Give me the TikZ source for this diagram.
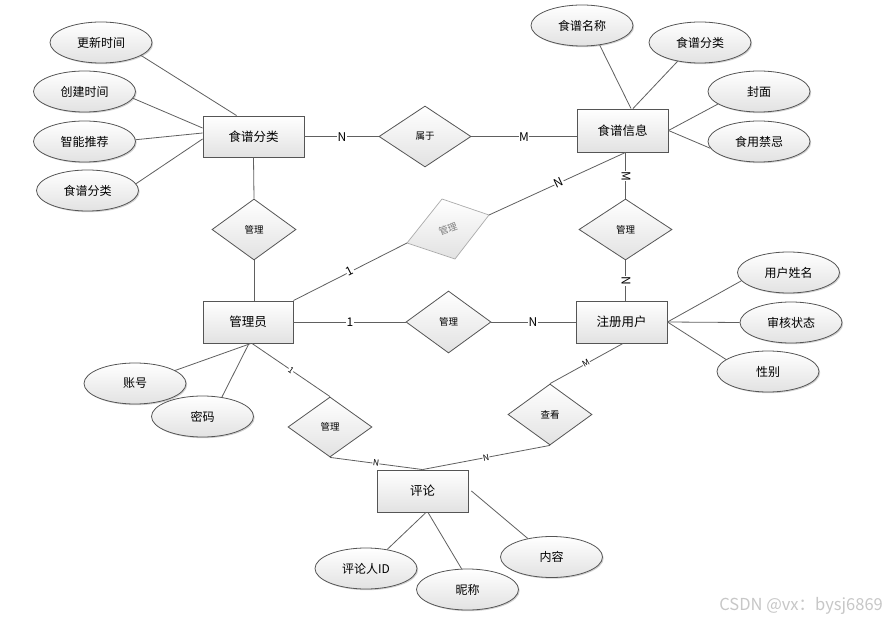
\documentclass[tikz,border=0pt]{standalone}
\usepackage{fontspec}
\setmainfont{Noto Sans CJK SC}
\usetikzlibrary{shapes.geometric,shadows}
\definecolor{edgec}{HTML}{606060}
\definecolor{bordc}{HTML}{555555}
\definecolor{shadebot}{HTML}{E2E2E2}
\definecolor{greyb}{HTML}{ABABAB}
\tikzset{
  shd/.style={drop shadow={shadow xshift=1.2pt,shadow yshift=-1.2pt,fill=black,opacity=0.18}},
  ent/.style={rectangle, draw=bordc, line width=0.9pt, top color=white, bottom color=shadebot,
    inner sep=0pt, font=\fontsize{12.5}{14}\selectfont, shd},
  attr/.style={ellipse, draw=bordc, line width=0.8pt, top color=white, bottom color=shadebot,
    minimum width=102pt, minimum height=41pt, inner sep=0pt, font=\fontsize{12}{14}\selectfont, shd},
  rel/.style={diamond, aspect=1.4, draw=bordc, line width=0.8pt, top color=white, bottom color=shadebot,
    inner sep=0pt, font=\fontsize{9.5}{11}\selectfont},
  link/.style={draw=edgec, line width=0.8pt},
  lab/.style={fill=white, inner sep=0.6pt, font=\fontsize{12}{13}\selectfont},
  slab/.style={fill=white, inner sep=0.4pt, font=\fontsize{8.5}{9}\selectfont},
}
\begin{document}
\begin{tikzpicture}[x=1pt,y=-1pt]
\path[use as bounding box, fill=white] (0,0) rectangle (886,620);

% entities
\node[ent, minimum width=101pt, minimum height=41pt] (cat) at (253.5,136.5) {食谱分类};
\node[ent, minimum width=91pt, minimum height=43pt] (info) at (622.5,130.5) {食谱信息};
\node[ent, minimum width=90pt, minimum height=42pt] (admin) at (248,322) {管理员};
\node[ent, minimum width=91pt, minimum height=42pt] (user) at (621.5,322) {注册用户};
\node[ent, minimum width=91pt, minimum height=42pt] (cm) at (422.5,491) {评论};

% relationships
\node[rel, minimum width=92pt, minimum height=61pt] (sy) at (425,136.5) {属于};
\node[rel, minimum width=84pt, minimum height=61pt] (d1) at (254,229.5) {管理};
\node[rel, minimum width=93pt, minimum height=61pt] (d2) at (625.5,229.5) {管理};
\node[rel, minimum width=85pt, minimum height=62pt] (d3) at (448.5,322) {管理};
\node[rel, minimum width=84pt, minimum height=60pt] (d4) at (330,427) {管理};
\node[rel, minimum width=84pt, minimum height=61pt] (ck) at (550,414.5) {查看};

% grey skewed diamond
\coordinate (gl) at (407,243);
\coordinate (gt) at (442,199);
\coordinate (gr) at (489,215);
\coordinate (gb) at (455,259);
\path[draw=greyb, line width=0.7pt, top color=white, bottom color=shadebot] (gl) -- (gt) -- (gr) -- (gb) -- cycle;
\node[rotate=20, text=gray, font=\fontsize{9.5}{11}\selectfont, inner sep=0pt] (gtext) at (448,229) {管理};

% attributes
\node[attr] (a1) at (101,42.5) {更新时间};
\node[attr] (a2) at (84.5,91.5) {创建时间};
\node[attr] (a3) at (84.5,141.5) {智能推荐};
\node[attr] (a4) at (87.5,190.5) {食谱分类};
\node[attr] (b1) at (582,25.5) {食谱名称};
\node[attr] (b2) at (700,42.5) {食谱分类};
\node[attr] (b3) at (759,91.5) {封面};
\node[attr] (b4) at (759,141.5) {食用禁忌};
\node[attr] (c1) at (135,383.5) {账号};
\node[attr] (c2) at (202.5,416.5) {密码};
\node[attr] (e1) at (788.5,272.5) {用户姓名};
\node[attr] (e2) at (791,322.5) {审核状态};
\node[attr] (e3) at (768,371.5) {性别};
\node[attr] (f1) at (366,568.5) {评论人ID};
\node[attr] (f2) at (467.5,589.5) {昵称};
\node[attr] (f3) at (551.5,557) {内容};

% attribute links
\draw[link] (a1.-18) -- ([xshift=34pt]cat.north west);
\draw[link] (a2.-8) -- ([yshift=8.5pt]cat.west);
\draw[link] (a3.2) -- ([yshift=3.5pt]cat.west);
\draw[link] (a4.8) -- ([yshift=-2.5pt]cat.west);
\draw[link] (b1.-48) -- ([xshift=8.5pt]info.north);
\draw[link] (b2.220) -- ([xshift=10.5pt]info.north);
\draw[link] (b3.197) -- (info.east);
\draw[link] (b4.188) -- (info.east);
\draw[link] (c1.18) -- ([xshift=3pt]admin.south);
\draw[link] (c2.45) -- ([xshift=1pt]admin.south);
\draw[link] (e1.190) -- (user.east);
\draw[link] (e2.west) -- (user.east);
\draw[link] (e3.164) -- (user.east);
\draw[link] (f1.42) -- ([xshift=3.5pt]cm.south);
\draw[link] (f2.106) -- ([xshift=5.5pt]cm.south);
\draw[link] (f3.142) -- ([xshift=3pt]cm.east);

% relationship links
\draw[link] (cat.east) -- (sy.west);
\draw[link] (sy.east) -- (sy.east -| info.west);
\draw[link] (cat.south) -- (d1.north);
\draw[link] (d1.south) -- (d1.south |- admin.north);
\draw[link] ([xshift=3pt]info.south) -- (d2.north);
\draw[link] (d2.south) -- (d2.south |- user.north);
\draw[link] (admin.north east) -- (gl);
\draw[link] (gr) -- ([xshift=3pt]info.south);
\draw[link] (admin.east) -- (d3.west);
\draw[link] (d3.east) -- (user.west);
\draw[link] ([xshift=4pt]admin.south) -- (d4.north);
\draw[link] (d4.south) -- (cm.north);
\draw[link] ([xshift=1.5pt]user.south) -- (ck.north);
\draw[link] (ck.south) -- (cm.north);

% cardinality labels
\node[lab] (l1) at (342,137) {N};
\node[lab] (l2) at (524,137) {M};
\node[lab, rotate=-90] (l3) at (626,176) {M};
\node[lab, rotate=-90] (l4) at (626,281) {N};
\node[lab, rotate=27] (l5) at (350,271) {1};
\node[lab, rotate=25] (l6) at (559,183) {N};
\node[lab] (l7) at (350,322) {1};
\node[lab] (l8) at (533,322) {N};
\node[slab, rotate=-35] (l9) at (291,370) {1};
\node[slab, rotate=-8] (l10) at (376,463) {N};
\node[slab, rotate=11] (l11) at (486,458) {N};
\node[slab, rotate=29] (l12) at (586,363) {M};

% watermark
\node[anchor=east, text=black!22, font=\fontsize{16.5}{18}\selectfont, inner sep=0pt] (wm) at (883,606) {CSDN @vx：bysj6869};
\end{tikzpicture}
\end{document}
